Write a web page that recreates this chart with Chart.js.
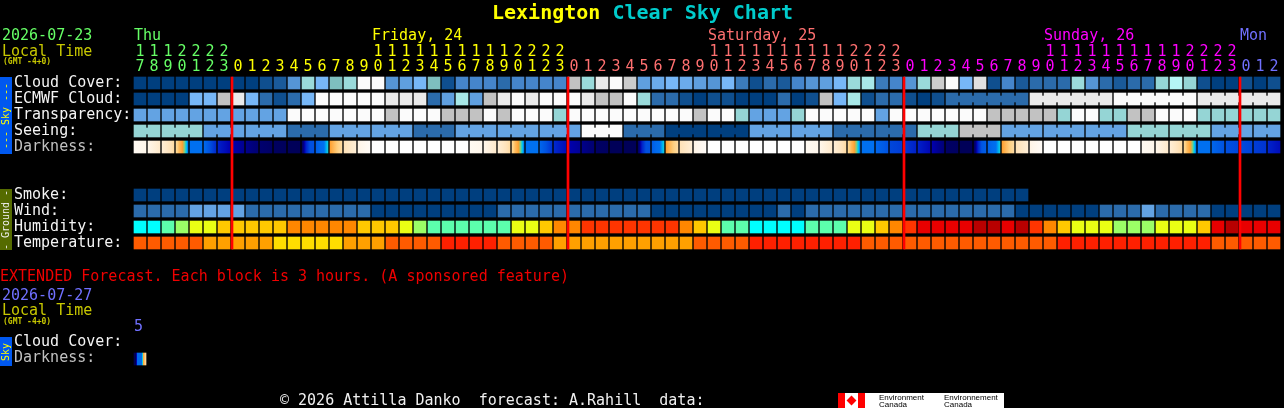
<!DOCTYPE html>
<html>
<head>
<meta charset="utf-8">
<title>Lexington Clear Sky Chart</title>
<script src="https://cdn.jsdelivr.net/npm/chart.js@4"></script>
<style>
  html, body { margin: 0; padding: 0; background: #000; overflow: hidden; }
  #wrap { position: relative; width: 1284px; height: 408px; }
  canvas { position: absolute; left: 0; top: 0; }
  .t { position: absolute; white-space: pre; font: 15px/15px "DejaVu Sans Mono", monospace; }
  .side { position: absolute; left: 0; width: 12px; }
  .side span { position: absolute; left: 6px; top: 50%; transform: translate(-50%, -50%) rotate(-90deg);
    white-space: pre; font: 10px/10px "DejaVu Sans Mono", monospace; }
  #logo { position: absolute; left: 838px; top: 393px; width: 166px; height: 15px; background: #fff; overflow: hidden; }
  #logo i { position: absolute; top: 0; height: 15px; background: #f00; }
  #logo b { position: absolute; left: 10px; top: 4px; width: 7px; height: 7px; background: #f00; transform: rotate(45deg); }
  #logo span { position: absolute; color: #000; white-space: pre; font: 8px/7px "Liberation Sans", sans-serif; }
</style>
</head>
<body>
<div id="wrap">
  <canvas id="skyChart" width="1284" height="408"></canvas>
  <div class="t" style="left:492px;top:1px;font:bold 20px/22px 'DejaVu Sans Mono',monospace;color:#ffff00">Lexington <span style="color:#00cccc">Clear Sky Chart</span></div>
  <div class="t" style="left:2px;top:28px;color:#66ff66">2026-07-23</div>
  <div class="t" style="left:2px;top:44px;color:#c8c800">Local Time</div>
  <div class="t" style="left:3px;top:57px;font:bold 8px/9px 'DejaVu Sans Mono',monospace;color:#c8c800">(GMT -4+0)</div>
  <div class="t" style="left:0;top:269px;color:#f00000">EXTENDED Forecast. Each block is 3 hours. (A sponsored feature)</div>
  <div class="t" style="left:2px;top:288px;color:#7070ff">2026-07-27</div>
  <div class="t" style="left:2px;top:303px;color:#c8c800">Local Time</div>
  <div class="t" style="left:3px;top:317px;font:bold 8px/9px 'DejaVu Sans Mono',monospace;color:#c8c800">(GMT -4+0)</div>
  <div class="t" style="left:280px;top:393px;color:#f0f0f0">© 2026 Attilla Danko  forecast: A.Rahill  data:</div>
  <div class="side" style="top:77px;height:77px;background:#0058f0"><span style="color:#ffff00">--- Sky ---</span></div>
  <div class="side" style="top:189px;height:61px;background:#556b00"><span style="color:#f0f0f0">- Ground -</span></div>
  <div class="side" style="top:337px;height:29px;background:#0058f0"><span style="color:#ffff00">Sky</span></div>
  <div id="logo">
    <i style="left:0;width:7px"></i><i style="left:20px;width:7px"></i><b></b>
    <span style="left:41px;top:1px">Environment
Canada</span>
    <span style="left:106px;top:1px">Environnement
Canada</span>
  </div>
</div>
<script>
const hourLabels = [17,18,19,20,21,22,23,
  0,1,2,3,4,5,6,7,8,9,10,11,12,13,14,15,16,17,18,19,20,21,22,23,
  0,1,2,3,4,5,6,7,8,9,10,11,12,13,14,15,16,17,18,19,20,21,22,23,
  0,1,2,3,4,5,6,7,8,9,10,11,12,13,14,15,16,17,18,19,20,21,22,23,
  0,1,2];

const dayNames = ["Thu", "Friday, 24", "Saturday, 25", "Sunday, 26", "Mon"];
const dayNameColumns = [0, 17, 41, 65, 79];
const dayFirstColumns = [0, 7, 31, 55, 79];

const cloudCover = [0,0,0,0,0,0,0,0,0,10,15,35,60,50,70,60,100,100,35,40,50,70,10,30,30,30,20,30,30,30,30,
  80,60,90,100,85,40,45,50,45,40,35,50,25,10,20,15,30,35,40,50,60,55,25,30,35,60,85,100,50,95,
  10,30,15,20,20,20,60,35,20,15,20,20,65,52,65,10,0,0,10,0,10];
const ecmwfCloud = [0,0,0,0,50,50,80,90,50,20,10,20,50,100,100,100,100,100,90,90,90,20,40,55,40,80,90,100,90,100,100,
  100,90,80,80,100,60,20,20,10,0,10,10,0,0,0,20,0,10,80,50,55,10,20,20,10,0,10,
  20,20,20,20,20,20,90,90,90,90,90,90,100,100,100,100,100,100,90,90,90,90,90,90];
const transparency = [3,3,3,3,3,3,3,3,3,3,3,0,0,0,0,0,0,0,1,0,0,0,1,1,1,0,1,0,0,0,2,
  0,0,0,0,0,0,0,0,0,1,0,0,2,3,3,3,2,0,0,0,0,0,3,0,0,0,0,0,0,0,
  1,1,1,1,1,2,0,0,2,2,1,1,0,0,0,2,2,2,2,2,2];
const seeing = [2,2,2,2,2,3,3,3,3,3,3,4,4,4,3,3,3,3,3,3,4,4,4,3,3,3,3,3,3,3,3,
  3,0,0,0,4,4,4,5,5,5,5,5,5,3,3,3,3,3,3,4,4,4,4,4,4,2,2,2,1,1,
  1,3,3,3,3,3,3,3,3,3,2,2,2,2,2,2,3,3,3,3,3];
// limiting magnitude through each hour, read at even spacing across the block
const darkness = [[-3.4,-3.1],[-3,-2.4],[-2.6,-1.8],[-1.7,-1.3,-1.05,-0.6,0],[0,0],[0.2,1.8],[2,3],
  [3,3.5],[3.6,4.2],[4.4,4.8],[5,5.2],[5.4,5.5],[5,2,1,1],[0.6,0.2,0,-0.4],[-1,-1.4,-1.8],[-2,-2.6],[-2.9,-3.6],
  [-4,-4],[-4,-4],[-4,-4],[-4,-4],[-4,-4],[-4,-4],[-4,-4],
  [-3.4,-3.1],[-3,-2.4],[-2.6,-1.8],[-1.7,-1.3,-1.05,-0.6,0],[0,0],[0.3,1.6],[1.8,2.6],
  [3,3.4],[3.6,4.2],[4.8,5],[5.5,5.5],[5.5,5.5],[5,2,1,1],[0.6,0.2,0,-0.4],[-1,-1.4,-1.8],[-2,-2.6],[-2.9,-3.6],
  [-4,-4],[-4,-4],[-4,-4],[-4,-4],[-4,-4],[-4,-4],[-4,-4],
  [-3.4,-3.1],[-3,-2.4],[-2.6,-1.8],[-1.7,-1.3,-1.05,-0.6,0],[0,0],[0.3,0.9],[1.2,1.4],
  [1.5,2],[2,2.8],[3,4],[4.8,5],[5.5,5.5],[5,2,0.8,0.6],[0.5,0.2,0,-0.4],[-1,-1.4,-1.8],[-2,-2.6],[-2.9,-3.6],
  [-4,-4],[-4,-4],[-4,-4],[-4,-4],[-4,-4],[-4,-4],[-4,-4],
  [-3.4,-3.1],[-3,-2.4],[-2.6,-1.8],[-1.7,-1.3,-1.05,-0.6,0],[0,0],[0.3,0.9],[1,1.2],
  [1.1,1.3],[1.4,1.6],[1.9,2.6]];

const smoke = [0,0,0,0,0,0,0,0,0,0,0,0,0,0,0,0,0,0,0,0,0,0,0,0,0,0,0,0,0,0,0,0,
  0,0,0,0,0,0,0,0,0,0,0,0,0,0,0,0,0,0,0,0,0,0,0,0,0,0,0,0,0,0,0,0];
const wind = [8,8,8,8,14,14,14,14,8,8,8,8,8,8,8,8,8,3,3,3,3,3,3,3,3,3,8,8,8,8,8,
  8,8,8,8,8,8,3,3,3,3,3,3,3,3,3,8,3,8,8,8,8,8,8,8,8,8,8,8,8,8,
  8,8,3,3,3,3,3,3,8,8,8,14,8,8,8,8,3,3,3,3,3];
const humidity = [30,30,35,40,45,45,50,50,50,50,50,55,55,55,55,55,50,50,50,45,40,35,35,35,35,35,35,45,45,50,55,
  55,60,60,60,60,60,60,60,55,50,45,35,35,30,30,30,30,35,35,35,45,45,50,55,60,70,70,70,70,80,
  80,70,80,60,55,50,45,45,45,40,40,40,45,45,45,50,70,80,70,70,70];
const temperature = [72,72,72,72,72,68,68,68,68,68,64,64,64,64,64,68,68,68,72,72,72,72,79,79,79,79,72,72,72,72,68,
  68,68,68,68,68,68,68,68,68,72,72,72,72,79,79,79,79,79,79,79,79,72,72,72,72,72,72,72,72,72,
  72,72,72,72,72,79,79,79,79,79,79,79,79,79,79,79,72,72,72,72,72];

const extendedDarkness = [[6,6,6,0.2,0.2,0.2,0.2,0.2,0.2,-1,-1.2,-1.5,-1.9]];
const extendedHours = [5];

const rowLabels = ["Cloud Cover:", "ECMWF Cloud:", "Transparency:", "Seeing:", "Darkness:",
  "Smoke:", "Wind:", "Humidity:", "Temperature:", "Cloud Cover:", "Darkness:"];

// blocks that belong to the same model step are joined
const ecmwfJoins = [58,59,60,61,62,64,65,66,67,68,70,71,72,73,74,76,77,78,79,80];
const seeingJoins = seeing.map((_, i) => i).filter(i => i < seeing.length - 1 && i % 3 !== 1);

const ROW = { cloud: 0, ecmwf: 1, transparency: 2, seeing: 3, darkness: 4,
  smoke: 7, wind: 8, humidity: 9, temperature: 10, extCloud: 16.1875, extDarkness: 17.25 };
const LABEL_ROWS = [0, 1, 2, 3, 4, 7, 8, 9, 10, 16.1875, 17.1875];
const HALF = 0.375, JOIN_HALF = 0.1875;

const cloudColors = { 0: "#003f7f", 10: "#0f4f8f", 15: "#1a5a9a", 20: "#2b6bab", 25: "#3b7bbb", 30: "#4585cb",
  35: "#5595d5", 40: "#5f9fdf", 45: "#6babeb", 50: "#77b7f7", 52: "#b5f5f5", 55: "#a8e8e8", 60: "#9adada",
  65: "#95d5d5", 70: "#7ebebe", 80: "#c2c2c2", 85: "#cccccc", 90: "#eaeaea", 95: "#e0e0e0", 100: "#fbfbfb" };
const ratingColors = ["#fbfbfb", "#c2c2c2", "#95d5d5", "#63a3e3", "#2b6bab", "#003f7f"];
const windColors = { 3: "#003f7f", 8: "#2b6bab", 14: "#63a3e3" };
const humidityColors = { 30: "#00ffff", 35: "#5cffac", 40: "#9bff66", 45: "#eaff14", 50: "#ffc800",
  55: "#ff8700", 60: "#ff3500", 70: "#e80000", 80: "#b80000" };
const temperatureColors = { 64: "#ffde00", 68: "#ffa000", 72: "#ff5b00", 79: "#ff2000" };
const dayColors = ["#66ff66", "#ffff00", "#ff7070", "#ff00ff", "#7070ff"];
const darknessStops = [[-4,255,255,255],[-3,255,246,234],[-2,255,226,184],[-1.5,255,208,128],[-1,255,160,48],
  [-0.7,144,200,120],[-0.5,48,208,192],[-0.3,0,192,240],[0,0,112,240],[1,0,80,224],[2,0,32,200],[3,0,0,176],
  [3.5,0,0,144],[4,0,0,120],[5,0,0,96],[6,0,0,80]];

function darknessColor(v) {
  let k = 0;
  while (k < darknessStops.length - 2 && v > darknessStops[k + 1][0]) k++;
  const a = darknessStops[k], b = darknessStops[k + 1];
  const f = Math.min(1, Math.max(0, (v - a[0]) / (b[0] - a[0])));
  const c = [1, 2, 3].map(n => Math.round(a[n] + (b[n] - a[n]) * f));
  return `rgb(${c[0]},${c[1]},${c[2]})`;
}

function blockGradient(context, values) {
  const scale = context.chart.scales.x;
  const cells = values[context.dataIndex];
  const mid = scale.getPixelForValue(context.raw.x);
  if (!Number.isFinite(mid)) return "#000"; // asked before the first layout
  const grad = context.chart.ctx.createLinearGradient(mid - 6, 0, mid + 6, 0);
  const parts = (cells.length - 1) * 6;
  for (let n = 0; n <= parts; n++) {
    const pos = n / parts * (cells.length - 1);
    const at = Math.min(cells.length - 2, Math.floor(pos));
    grad.addColorStop(n / parts, darknessColor(cells[at] + (cells[at + 1] - cells[at]) * (pos - at)));
  }
  return grad;
}

function blocks(values, row) {
  return values.map((_, i) => ({ x: i, y: [row - HALF, row + HALF] }));
}

function colorBlocks(label, values, row, colors) {
  return { label: label, data: blocks(values, row), backgroundColor: values.map(v => colors[v]),
    barThickness: 12, order: 2 };
}

function joinBlocks(label, joins, values, row, colors) {
  return { label: label, data: joins.map(i => ({ x: i + 0.5, y: [row - JOIN_HALF, row + JOIN_HALF] })),
    backgroundColor: joins.map(i => colors[values[i]]), barThickness: 2, order: 2 };
}

const midnights = hourLabels.map((h, i) => (h === 0 ? i : -1)).filter(i => i >= 0);

const datasets = [
  { label: "Midnight", data: midnights.map(i => ({ x: i - 6 / 14, y: [ROW.cloud - HALF, ROW.temperature + HALF] })),
    backgroundColor: "#ff0000", barThickness: 2, order: 1 },
  colorBlocks("Cloud Cover", cloudCover, ROW.cloud, cloudColors),
  colorBlocks("ECMWF Cloud", ecmwfCloud, ROW.ecmwf, cloudColors),
  joinBlocks("ECMWF joins", ecmwfJoins, ecmwfCloud, ROW.ecmwf, cloudColors),
  colorBlocks("Transparency", transparency, ROW.transparency, ratingColors),
  colorBlocks("Seeing", seeing, ROW.seeing, ratingColors),
  joinBlocks("Seeing joins", seeingJoins, seeing, ROW.seeing, ratingColors),
  { label: "Darkness", data: blocks(darkness, ROW.darkness), barThickness: 12, order: 2,
    backgroundColor: c => (c.raw ? blockGradient(c, darkness) : "#000") },
  colorBlocks("Smoke", smoke, ROW.smoke, { 0: "#003f7f" }),
  colorBlocks("Wind", wind, ROW.wind, windColors),
  colorBlocks("Humidity", humidity, ROW.humidity, humidityColors),
  colorBlocks("Temperature", temperature, ROW.temperature, temperatureColors),
  { label: "Extended Darkness", data: blocks(extendedDarkness, ROW.extDarkness), barThickness: 12, order: 2,
    backgroundColor: c => (c.raw ? blockGradient(c, extendedDarkness) : "#000") }
];

function dayIndex(column) {
  let d = 0;
  dayFirstColumns.forEach((start, k) => { if (column >= start) d = k; });
  return d;
}

const MONO = "'DejaVu Sans Mono', monospace";

const chart = new Chart(document.getElementById("skyChart").getContext("2d"), {
  type: "bar",
  data: { datasets: datasets },
  options: {
    responsive: false,
    animation: false,
    devicePixelRatio: 1,
    grouped: false,
    borderWidth: 0,
    borderSkipped: false,
    layout: { autoPadding: false, padding: { left: 14, right: 3, top: 0, bottom: 36 } },
    plugins: { legend: { display: false }, title: { display: false }, tooltip: { enabled: false } },
    scales: {
      x: {
        type: "linear",
        position: "top",
        offset: false,
        min: -0.5,
        max: 81.5,
        grid: { display: false, drawTicks: false, offset: false },
        border: { display: false },
        afterFit: s => { s.height = 72; },
        afterBuildTicks: s => { s.ticks = hourLabels.map((_, i) => ({ value: i })); },
        ticks: {
          autoSkip: false,
          maxRotation: 0,
          padding: -3,
          font: { family: MONO, size: 15, lineHeight: 1 },
          color: c => dayColors[dayIndex(c.tick.value)],
          callback: v => {
            const h = String(hourLabels[v]);
            return h.length > 1 ? [h[0], h[1]] : ["", h];
          }
        }
      },
      y: {
        type: "linear",
        reverse: true,
        min: -0.6875,
        max: 18.0625,
        grid: { display: false, drawTicks: false },
        border: { display: false },
        afterFit: s => { s.width = 119; },
        afterBuildTicks: s => { s.ticks = LABEL_ROWS.map(v => ({ value: v })); },
        ticks: {
          autoSkip: false,
          crossAlign: "far",
          padding: 0,
          font: { family: MONO, size: 15, lineHeight: 1 },
          color: c => (rowLabels[LABEL_ROWS.indexOf(c.tick.value)] === "Darkness:" ? "#c0c0c0" : "#f4f4f4"),
          callback: v => rowLabels[LABEL_ROWS.indexOf(v)]
        }
      }
    }
  }
});

// day names and the extended hour sit on the same columns as the blocks
const wrap = document.getElementById("wrap");
function columnText(text, column, top, color) {
  const el = document.createElement("div");
  el.className = "t";
  el.textContent = text;
  el.style.left = (chart.scales.x.getPixelForValue(column) - 6) + "px";
  el.style.top = top + "px";
  el.style.color = color;
  wrap.appendChild(el);
}
dayNames.forEach((name, k) => columnText(name, dayNameColumns[k], 28, dayColors[k]));
extendedHours.forEach(h => columnText(String(h), 0, 319, "#7070ff"));
</script>
</body>
</html>
